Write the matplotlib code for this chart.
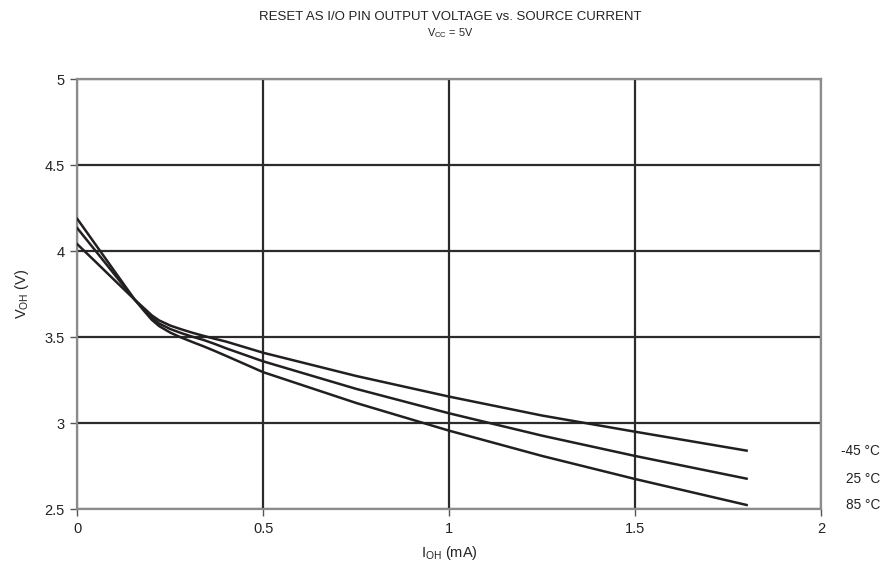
import matplotlib
matplotlib.use("Agg")
import matplotlib.pyplot as plt
import matplotlib.transforms as mtransforms

plt.rcParams['font.family'] = ['Liberation Sans', 'DejaVu Sans']
plt.rcParams['mathtext.fontset'] = 'custom'
plt.rcParams['mathtext.rm'] = 'Liberation Sans'
plt.rcParams['mathtext.it'] = 'Liberation Sans'

# Data
i_oh = [0, 0.05, 0.10, 0.155, 0.18, 0.20, 0.22, 0.25, 0.28, 0.31, 0.34, 0.37, 0.40, 0.5, 0.75, 1.0, 1.25, 1.5, 1.8]
v_m45 = [4.041, 3.937, 3.832, 3.717, 3.668, 3.628, 3.598, 3.568, 3.546, 3.526, 3.508, 3.491, 3.475, 3.410, 3.275, 3.155, 3.045, 2.951, 2.841]
v_25 = [4.134, 4.000, 3.865, 3.717, 3.660, 3.615, 3.580, 3.548, 3.524, 3.503, 3.484, 3.461, 3.436, 3.360, 3.200, 3.058, 2.928, 2.810, 2.678]
v_85 = [4.188, 4.036, 3.884, 3.717, 3.652, 3.602, 3.565, 3.527, 3.498, 3.472, 3.447, 3.420, 3.392, 3.297, 3.118, 2.957, 2.810, 2.676, 2.525]
series = [("-45 °C", v_m45), ("25 °C", v_25), ("85 °C", v_85)]
xticks = [0, 0.5, 1, 1.5, 2]
xticklabels = ["0", "0.5", "1", "1.5", "2"]
yticks = [2.5, 3, 3.5, 4, 4.5, 5]
yticklabels = ["2.5", "3", "3.5", "4", "4.5", "5"]

fig = plt.figure(figsize=(8.88, 5.78), dpi=100)
ax = fig.add_axes([0.0871, 0.1189, 0.8374, 0.7439])

for label, v in series:
    ax.plot(i_oh, v, color='#231f20', lw=1.8, solid_joinstyle='round', zorder=3)

ax.set_xlim(0, 2)
ax.set_ylim(2.5, 5)
ax.set_xticks(xticks)
ax.set_xticklabels(xticklabels)
ax.set_yticks(yticks)
ax.set_yticklabels(yticklabels)
ax.grid(True, color='#2b2b2b', lw=1.6, zorder=1)
for s in ax.spines.values():
    s.set_color('#8c8c8c')
    s.set_linewidth(1.6)
    s.set_zorder(2)
ax.tick_params(direction='out', length=5, width=1, color='#555555', labelsize=10.5, labelcolor='#222222', pad=4)

ax.set_xlabel(r"I$_{\mathrm{OH}}$ (mA)", fontsize=10.5, color='#222222', labelpad=6)
ax.set_ylabel(r"V$_{\mathrm{OH}}$ (V)", fontsize=10.5, color='#222222', labelpad=10)

fig.text(0.507, 0.970, "RESET AS I/O PIN OUTPUT VOLTAGE vs. SOURCE CURRENT", ha='center', va='center', fontsize=9.5, color='#222222')
fig.text(0.507, 0.943, r"V$_{\mathrm{CC}}$ = 5V", ha='center', va='center', fontsize=7.8, color='#222222')

trans = mtransforms.blended_transform_factory(fig.transFigure, ax.transData)
for label, v in series:
    ax.text(0.991, v[-1], label, transform=trans, ha='right', va='center', fontsize=9.8, color='#222222', clip_on=False)

fig.savefig("out.png", dpi=100)
